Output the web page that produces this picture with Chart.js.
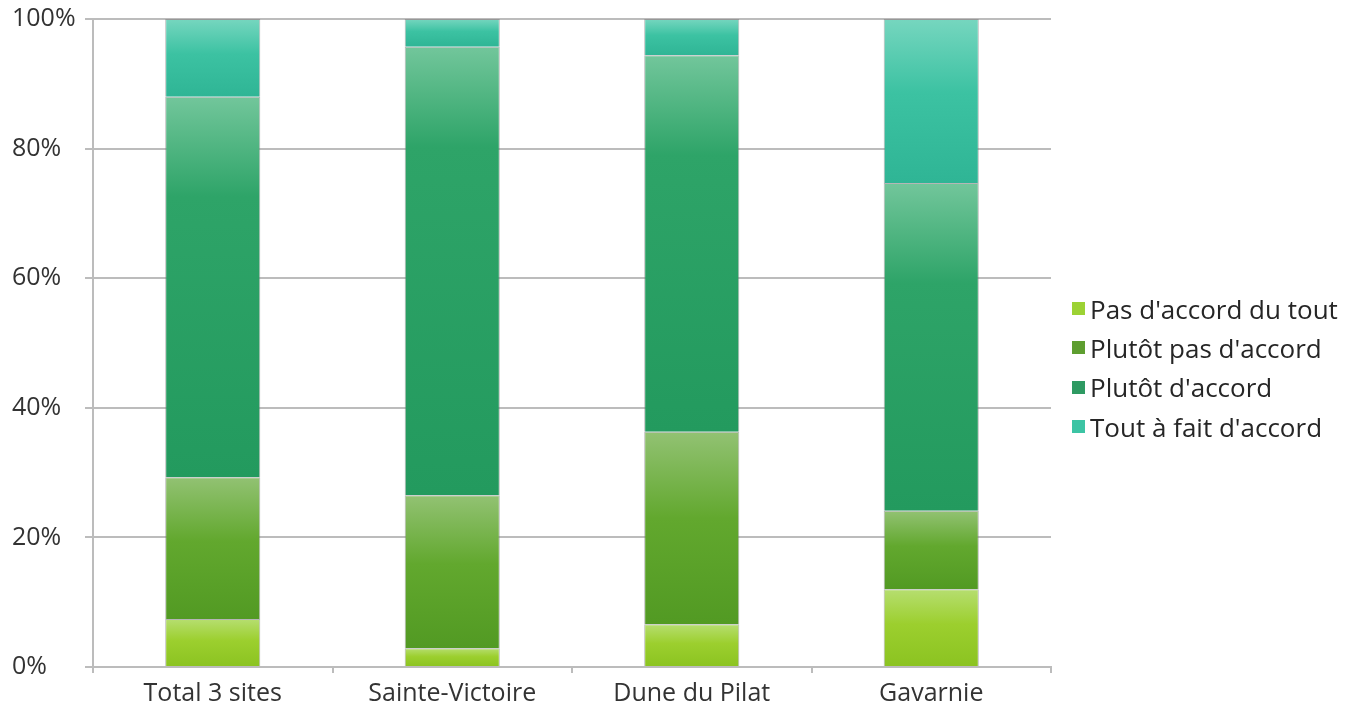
<!DOCTYPE html>
<html>
<head>
<meta charset="utf-8">
<script src="https://cdn.jsdelivr.net/npm/chart.js@4"></script>
<style>
  html, body { margin: 0; padding: 0; background: #fff; }
  #wrap { position: relative; width: 1360px; height: 711px; }
  #legend { position: absolute; left: 1072px; top: 289px; font-family: "Open Sans", sans-serif; font-size: 26px; color: #262626; }
  .leg-row { display: flex; align-items: center; height: 39.3px; white-space: nowrap; }
  .leg-sw { width: 13px; height: 13px; margin-right: 5px; flex: none; }
</style>
</head>
<body>
<div id="wrap">
  <canvas id="c" width="1360" height="711"></canvas>
  <div id="legend"></div>
</div>
<script>
/* ===== Données ===== */
const categories = ['Total 3 sites', 'Sainte-Victoire', 'Dune du Pilat', 'Gavarnie'];
const seriesNames = ["Pas d'accord du tout", "Plutôt pas d'accord", "Plutôt d'accord", "Tout à fait d'accord"];
const pasDuTout   = [7.4, 2.9, 6.6, 12.0];
const plutotPas   = [21.9, 23.6, 29.7, 12.1];
const plutotOui   = [58.7, 69.2, 58.1, 50.6];
const toutAFait   = [12.0, 4.3, 5.6, 25.3];
const yTicks = [0, 20, 40, 60, 80, 100];

// dégradés façon Excel : haut clair -> bas plus foncé
const SHADES = [
  ['#b6de70', '#9ccf2e', '#8bc321'],
  ['#92c273', '#62a82e', '#529a23'],
  ['#72c69b', '#2ea468', '#239a5e'],
  ['#76d6bf', '#3cc2a2', '#2fb595'],
];
const LEGEND_COL = ['#9cd234', '#5e9e30', '#2e9a62', '#3cc4a4'];
const GRID = '#bcbcbc';
const TICK = '#333333';

const allSeries = [pasDuTout, plutotPas, plutotOui, toutAFait];

function segGradient(ctx, dsIdx) {
  const chart = ctx.chart;
  const y = chart.scales && chart.scales.y;
  if (!y || ctx.dataIndex == null || !chart.chartArea) return SHADES[dsIdx][1];
  let start = 0;
  for (let k = 0; k < dsIdx; k++) start += allSeries[k][ctx.dataIndex];
  const end = start + allSeries[dsIdx][ctx.dataIndex];
  const top = y.getPixelForValue(end), bot = y.getPixelForValue(start);
  if (!isFinite(top) || !isFinite(bot) || bot - top < 1) return SHADES[dsIdx][1];
  const g = chart.ctx.createLinearGradient(0, top, 0, bot);
  const h = bot - top;
  // zone claire limitée en haut du segment (≈ 100 px max)
  const m = Math.min(0.45, 100 / h);
  g.addColorStop(0, SHADES[dsIdx][0]);
  g.addColorStop(m, SHADES[dsIdx][1]);
  g.addColorStop(1, SHADES[dsIdx][2]);
  return g;
}

const datasets = allSeries.map((vals, i) => ({
  label: seriesNames[i],
  data: vals,
  backgroundColor: c => segGradient(c, i),
  borderColor: 'rgba(120,120,120,0.55)',
  borderWidth: 1,
  barPercentage: 0.397,
  categoryPercentage: 1,
  stack: 's',
}));

const FONT = { family: '"Open Sans", sans-serif', size: 25 };

new Chart(document.getElementById('c'), {
  type: 'bar',
  data: { labels: categories, datasets },
  options: {
    responsive: false,
    animation: false,
    layout: { padding: { left: 12, top: 19, right: 309, bottom: 0 } },
    plugins: { legend: { display: false }, tooltip: { enabled: false } },
    scales: {
      x: {
        stacked: true,
        grid: { drawOnChartArea: false, drawTicks: true, tickLength: 6, offset: true, color: GRID, lineWidth: 2 },
        border: { color: GRID, width: 2 },
        ticks: { color: TICK, font: FONT, padding: 6, maxRotation: 0 },
        afterFit: s => { s.height = 44; },
      },
      y: {
        stacked: true,
        min: 0, max: 100,
        afterBuildTicks: s => { s.ticks = yTicks.map(v => ({ value: v })); },
        grid: { color: GRID, lineWidth: 2, tickLength: 8 },
        border: { color: GRID, width: 2 },
        ticks: { color: TICK, font: FONT, crossAlign: 'far', callback: v => v + '%' },
        afterFit: s => { s.width = 81; },
      },
    },
  },
});

// légende HTML
const leg = document.getElementById('legend');
seriesNames.forEach((n, i) => {
  const row = document.createElement('div');
  row.className = 'leg-row';
  row.innerHTML = '<span class="leg-sw" style="background:' + LEGEND_COL[i] + '"></span>' + n;
  leg.appendChild(row);
});
</script>
</body>
</html>
